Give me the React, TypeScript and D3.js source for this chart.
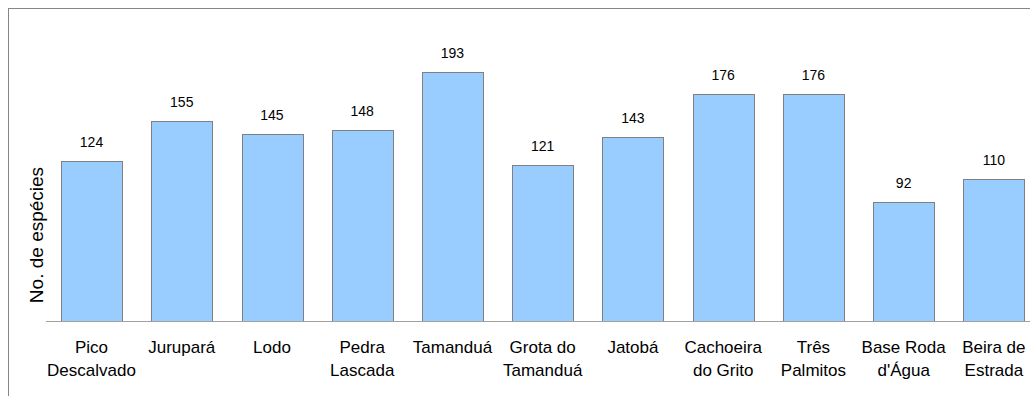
import React from "react";
import * as d3 from "d3";

const categories: string[][] = [
  ["Pico", "Descalvado"],
  ["Jurupará"],
  ["Lodo"],
  ["Pedra", "Lascada"],
  ["Tamanduá"],
  ["Grota do", "Tamanduá"],
  ["Jatobá"],
  ["Cachoeira", "do Grito"],
  ["Três", "Palmitos"],
  ["Base Roda", "d'Água"],
  ["Beira de", "Estrada"],
];
const values: number[] = [124, 155, 145, 148, 193, 121, 143, 176, 176, 92, 110];
const yTitle = "No. de espécies";

const W = 1030;
const H = 396;
const FONT = "'Liberation Sans', Arial, sans-serif";

export default function App() {
  const keys = categories.map((c) => c.join(" "));
  const x = d3.scaleBand<string>().domain(keys).range([46.4, 1039]).paddingInner(0.325).paddingOuter(0.1625);
  const y = d3.scaleLinear().domain([0, 200]).range([321, 63.3]);
  return (
    <svg width={W} height={H} style={{ position: "absolute", left: 0, top: 0, display: "block" }}>
      <rect x={0} y={0} width={W} height={H} fill="#fff" />
      <rect x={8.5} y={8.5} width={1100} height={500} fill="none" stroke="#868686" strokeWidth={1} />
      {values.map((v, i) => (
        <rect
          key={keys[i]}
          x={Math.round(x(keys[i])!) + 0.5}
          y={Math.round(y(v)) + 0.5}
          width={Math.round(x.bandwidth())}
          height={Math.round(y(0)) - Math.round(y(v))}
          fill="#99ccff"
          stroke="#808080"
          strokeWidth={1}
        />
      ))}
      <line x1={46} x2={W} y1={321.5} y2={321.5} stroke="#a0a0a0" strokeWidth={1} />
      {values.map((v, i) => (
        <text
          key={"v" + i}
          x={x(keys[i])! + x.bandwidth() / 2}
          y={y(v) - 14}
          textAnchor="middle"
          fontFamily={FONT}
          fontSize={14}
          fill="#000"
        >
          {v}
        </text>
      ))}
      {categories.map((lines, i) => (
        <text
          key={"c" + i}
          x={x(keys[i])! + x.bandwidth() / 2}
          y={353}
          textAnchor="middle"
          fontFamily={FONT}
          fontSize={17}
          fill="#000"
        >
          {lines.map((l, j) => (
            <tspan key={j} x={x(keys[i])! + x.bandwidth() / 2} dy={j === 0 ? 0 : 23}>
              {l}
            </tspan>
          ))}
        </text>
      ))}
      <text
        transform={`translate(43,235) rotate(-90)`}
        textAnchor="middle"
        fontFamily={FONT}
        fontSize={19}
        fill="#000"
      >
        {yTitle}
      </text>
    </svg>
  );
}
